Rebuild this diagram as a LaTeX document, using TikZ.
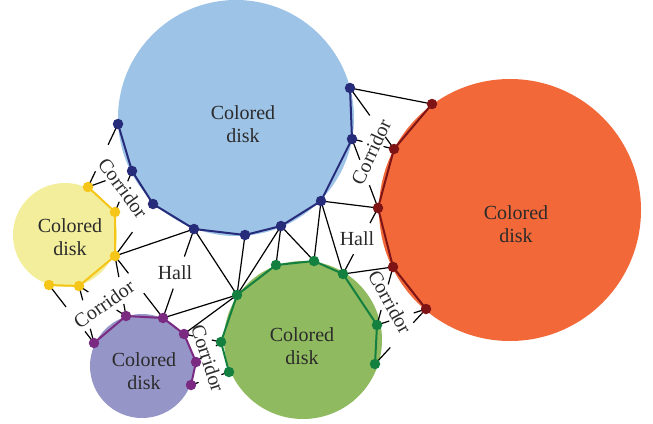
\documentclass[tikz,border=0pt]{standalone}
\usepackage{fontspec}
\setmainfont{Liberation Serif}
\usetikzlibrary{calc}
\definecolor{cblue}{HTML}{9DC3E7}
\definecolor{corange}{HTML}{F26839}
\definecolor{cyellow}{HTML}{F3EE9B}
\definecolor{cpurple}{HTML}{9595C8}
\definecolor{cgreen}{HTML}{8FBA5F}
\definecolor{dblue}{HTML}{262B7A}
\definecolor{dyellow}{HTML}{F5C518}
\definecolor{dpurple}{HTML}{7B2A82}
\definecolor{dgreen}{HTML}{138040}
\definecolor{dred}{HTML}{7F1416}
\definecolor{txt}{HTML}{2B2B2B}
\newcommand\mystub[3]{\draw[edge] (#1) -- ($(#1)!#3!(#2)$);}
\begin{document}
\begin{tikzpicture}[x=1pt,y=-1pt,
  lbl/.style={font=\fontsize{20}{23}\selectfont, text=txt, align=center, inner sep=0pt},
  edge/.style={black, line width=1.2pt},
  poly/.style={line width=2pt, line join=round},
  dot/.style={circle, inner sep=0pt, minimum size=10.5pt}]
\useasboundingbox (0,0) rectangle (653,423);
% disks
\fill[cblue] (236,118) circle (118);
\fill[corange] (510,210) circle (131);
\fill[cyellow] (65,235) circle (52);
\fill[cpurple] (142,366) circle (52);
\fill[cgreen] (303,340) circle (79);
% points
\coordinate (b1) at (118,124); \coordinate (b2) at (132,171); \coordinate (b3) at (153,204);
\coordinate (b4) at (194,229); \coordinate (b5) at (245,235); \coordinate (b6) at (281,226);
\coordinate (b7) at (321,201); \coordinate (b8) at (352,139); \coordinate (b9) at (350,88);
\coordinate (y1) at (88,187); \coordinate (y2) at (115,212); \coordinate (y3) at (115,256);
\coordinate (y4) at (79,286); \coordinate (y5) at (49,285);
\coordinate (p1) at (94,343); \coordinate (p2) at (126,316); \coordinate (p3) at (163,318);
\coordinate (p4) at (184,334); \coordinate (p5) at (196,362); \coordinate (p6) at (191,385);
\coordinate (g1) at (237,295); \coordinate (g2) at (276,265); \coordinate (g3) at (314,261);
\coordinate (g4) at (343,274); \coordinate (g5) at (377,325); \coordinate (g6) at (375,364);
\coordinate (g7) at (221,342); \coordinate (g8) at (229,372);
\coordinate (r1) at (432,104); \coordinate (r2) at (394,149); \coordinate (r3) at (378,208);
\coordinate (r4) at (393,267); \coordinate (r5) at (426,309);
% full edges
\draw[edge] (b9) -- (r1);
\draw[edge] (b7) -- (r3);
\draw[edge] (b7) -- (g3);
\draw[edge] (b7) -- (g4);
\draw[edge] (b6) -- (g1);
\draw[edge] (b6) -- (g2);
\draw[edge] (b6) -- (g3);
\draw[edge] (b5) -- (g1);
\draw[edge] (b4) -- (g1);
\draw[edge] (y3) -- (b4);
\draw[edge] (g1) -- (p3);
\draw[edge] (g1) -- (p4);
\draw[edge] (g4) -- (r4);
% stubs: top-right corridor
\mystub{b9}{r2}{0.45} \mystub{r2}{b9}{0.2}
\mystub{b8}{r2}{0.25} \mystub{r2}{b8}{0.25}
\mystub{b8}{r3}{0.3} \mystub{r3}{b8}{0.33}
% right hall
\mystub{r3}{g4}{0.23} \mystub{g4}{r3}{0.3}
% bottom-right corridor
\mystub{r4}{g5}{0.3} \mystub{g5}{r4}{0.26}
\mystub{g5}{r5}{0.25} \mystub{r5}{g5}{0.25}
\mystub{r5}{g6}{0.25} \mystub{g6}{r5}{0.3}
% top-left corridor
\mystub{b1}{y1}{0.33} \mystub{y1}{b1}{0.25}
\mystub{y1}{b2}{0.4}
\mystub{b2}{y2}{0.25} \mystub{y2}{b2}{0.25}
\mystub{y3}{b3}{0.46}
% left hall
\mystub{b4}{p3}{0.31} \mystub{p3}{b4}{0.33}
\mystub{y3}{p3}{0.28} \mystub{p3}{y3}{0.4}
% bottom-left corridor
\mystub{y5}{p1}{0.38} \mystub{p1}{y5}{0.2}
\mystub{y4}{p1}{0.25} \mystub{p1}{y4}{0.25}
\mystub{y4}{p2}{0.2} \mystub{p2}{y4}{0.2}
\mystub{y3}{p2}{0.35} \mystub{p2}{y3}{0.2}
% purple-green corridor
\mystub{p4}{g7}{0.25} \mystub{g7}{p4}{0.25}
\mystub{p5}{g7}{0.25} \mystub{g7}{p5}{0.2}
\mystub{p6}{g8}{0.2} \mystub{g8}{p6}{0.2}
% polylines
\draw[poly, dblue] (b1) -- (b2) -- (b3) -- (b4) -- (b5) -- (b6) -- (b7) -- (b8) -- (b9);
\draw[poly, dyellow] (y1) -- (y2) -- (y3) -- (y4) -- (y5);
\draw[poly, dpurple] (p1) -- (p2) -- (p3) -- (p4) -- (p5) -- (p6);
\draw[poly, dgreen] (g8) -- (g7) -- (g1) -- (g2) -- (g3) -- (g4) -- (g5) -- (g6);
\draw[poly, dred] (r1) -- (r2) -- (r3) -- (r4) -- (r5);
% dots
\foreach \n in {b1,b2,b3,b4,b5,b6,b7,b8,b9} \node[dot, fill=dblue] (d\n) at (\n) {};
\foreach \n in {y1,y2,y3,y4,y5} \node[dot, fill=dyellow] (d\n) at (\n) {};
\foreach \n in {p1,p2,p3,p4,p5,p6} \node[dot, fill=dpurple] (d\n) at (\n) {};
\foreach \n in {g1,g2,g3,g4,g5,g6,g7,g8} \node[dot, fill=dgreen] (d\n) at (\n) {};
\foreach \n in {r1,r2,r3,r4,r5} \node[dot, fill=dred] (d\n) at (\n) {};
% labels
\node[lbl] (lblue) at (243,124) {Colored\\disk};
\node[lbl] (lorange) at (516,224) {Colored\\disk};
\node[lbl] (lyellow) at (70,237) {Colored\\disk};
\node[lbl] (lpurple) at (144,371) {Colored\\disk};
\node[lbl] (lgreen) at (302,346) {Colored\\disk};
\node[lbl] (hall1) at (175,273) {Hall};
\node[lbl] (hall2) at (357,239) {Hall};
\node[lbl, rotate=65] (cor1) at (371,152) {Corridor};
\node[lbl, rotate=-61] (cor2) at (390,302) {Corridor};
\node[lbl, rotate=-54] (cor3) at (123,188) {Corridor};
\node[lbl, rotate=35] (cor4) at (104,304) {Corridor};
\node[lbl, rotate=-72] (cor5) at (208,358) {Corridor};
\end{tikzpicture}
\end{document}
